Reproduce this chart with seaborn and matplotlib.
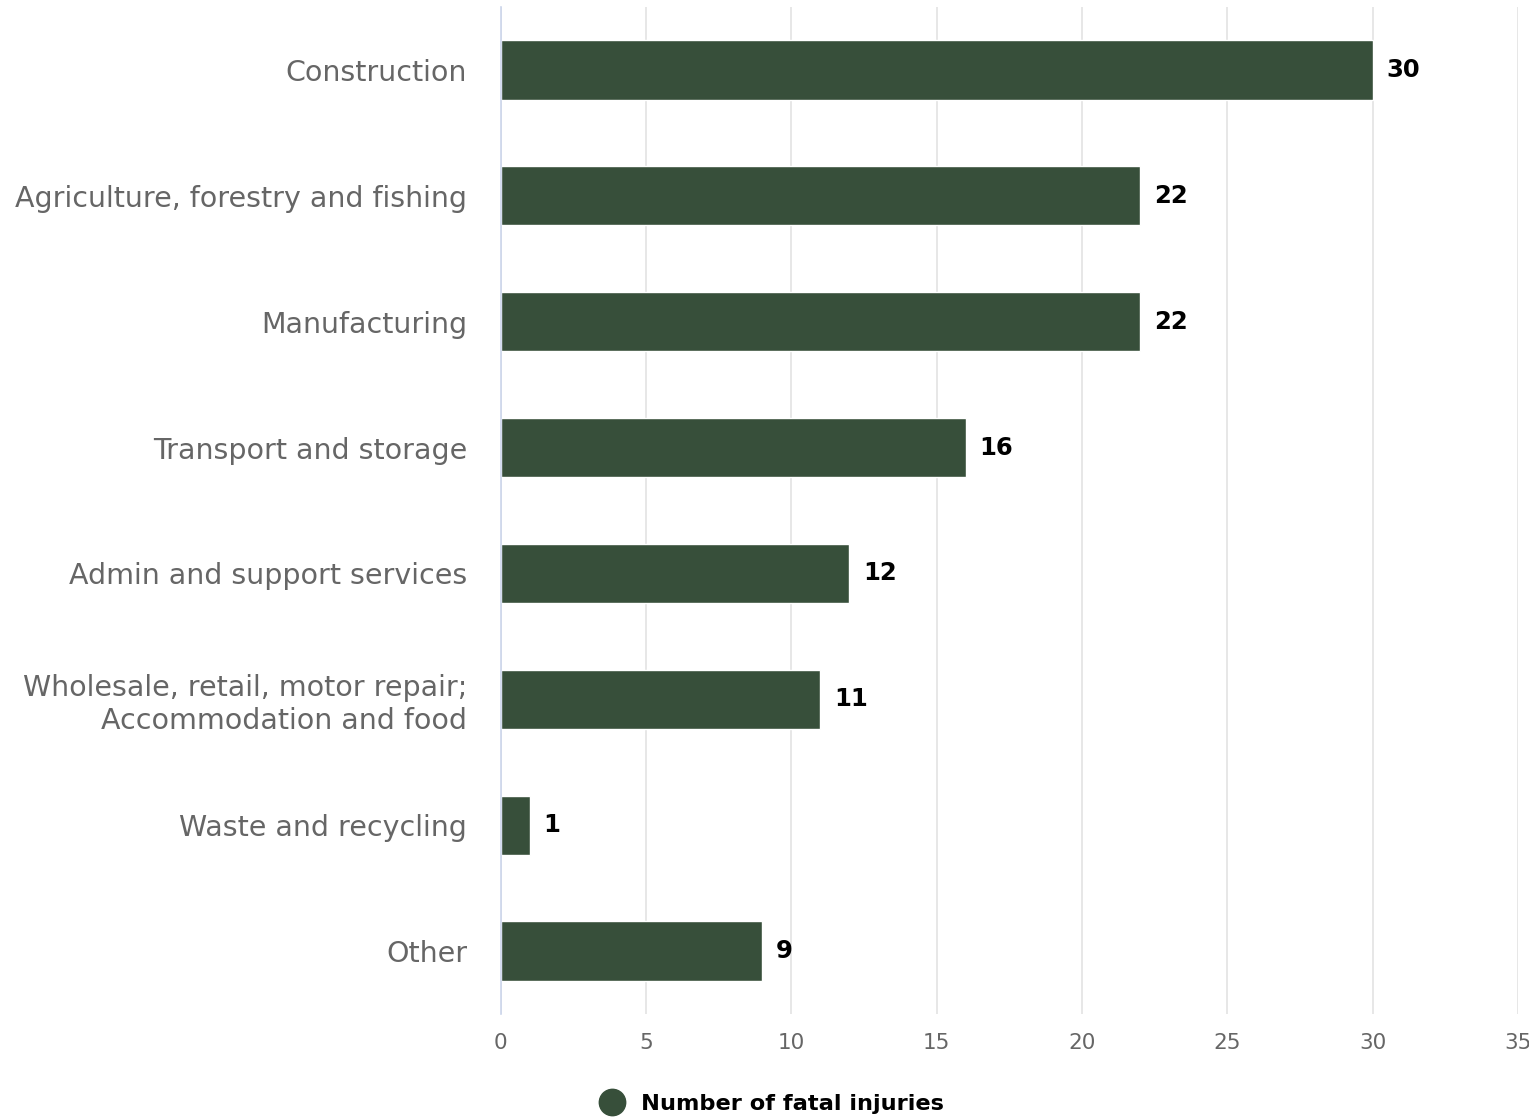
import matplotlib
matplotlib.use("Agg")
import matplotlib.pyplot as plt
from matplotlib.lines import Line2D
import seaborn as sns
import pandas as pd

categories = [
    "Construction",
    "Agriculture, forestry and fishing",
    "Manufacturing",
    "Transport and storage",
    "Admin and support services",
    "Wholesale, retail, motor repair;\nAccommodation and food",
    "Waste and recycling",
    "Other",
]
values = [30, 22, 22, 16, 12, 11, 1, 9]
x_ticks = [0, 5, 10, 15, 20, 25, 30, 35]
series_name = "Number of fatal injuries"

BAR = "#374f3a"
sns.set_theme(style="white")
plt.rcParams["font.family"] = ["DejaVu Sans"]

df = pd.DataFrame({"category": categories, "value": values})

fig = plt.figure(figsize=(15.29, 11.2), dpi=100)
ax = fig.add_axes([500.5 / 1529, 1 - 1014 / 1120, (1518 - 500.5) / 1529, (1014 - 7) / 1120])

sns.barplot(data=df, y="category", x="value", orient="h", color=BAR,
            width=0.47, saturation=1, ax=ax, zorder=3)

ax.set_xlim(0, 35)
ax.set_ylim(len(categories) - 0.5, -0.5)
ax.set_xticks(x_ticks)
ax.set_xticklabels([str(t) for t in x_ticks])
ax.set_xlabel("")
ax.set_ylabel("")
for s in ["top", "right", "bottom"]:
    ax.spines[s].set_visible(False)
ax.spines["left"].set_color("#ccd6eb")
ax.spines["left"].set_linewidth(1.2)
ax.spines["left"].set_zorder(4)
ax.grid(axis="x", color="#e3e3e3", linewidth=1.2, zorder=0)
ax.grid(axis="y", visible=False)
ax.tick_params(axis="x", length=0, pad=14, labelsize=15.5, labelcolor="#666666")
ax.tick_params(axis="y", length=0, pad=24, labelsize=20.5, labelcolor="#666666")
for lbl in ax.get_yticklabels():
    lbl.set_linespacing(1.22)

for c in ax.containers:
    ax.bar_label(c, labels=[str(v) for v in values], padding=10,
                 fontsize=17.5, fontweight="bold", color="black")

handle = Line2D([], [], marker="o", linestyle="none", markersize=19,
                markerfacecolor=BAR, markeredgecolor=BAR)
leg = fig.legend([handle], [series_name], loc="center", bbox_to_anchor=(767 / 1529, 1 - 1104 / 1120),
                 frameon=False, prop={"size": 16.2, "weight": "bold"}, handletextpad=0.3,
                 borderaxespad=0)
for t in leg.get_texts():
    t.set_color("black")

fig.savefig("out.png", dpi=100, facecolor="white")
